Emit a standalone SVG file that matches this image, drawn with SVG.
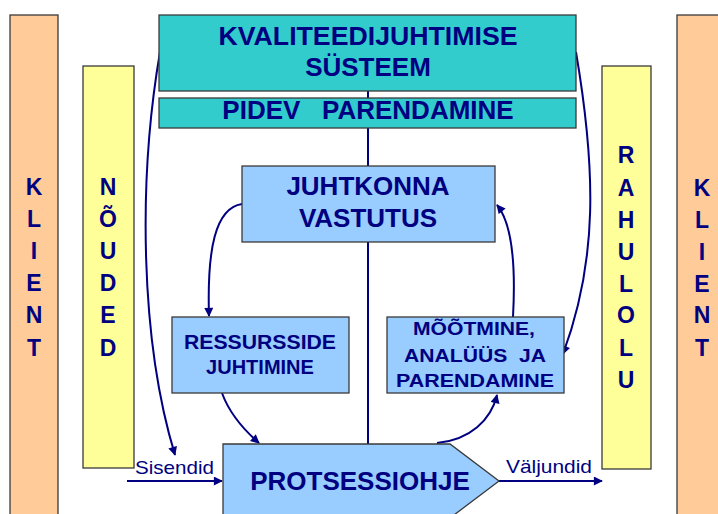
<svg xmlns="http://www.w3.org/2000/svg" width="718" height="514" viewBox="0 0 718 514">
<style>
.bar{stroke:#3a3a3a;stroke-width:1.3}
.box{stroke:#3a3a3a;stroke-width:1.3}
.t{font-family:"Liberation Sans",Arial,sans-serif;font-weight:bold;fill:#000080;text-anchor:middle}
.r{font-family:"Liberation Sans",Arial,sans-serif;fill:#000080}
.c{fill:none;stroke:#000080;stroke-width:2}
</style>
<defs>
<marker id="ah" viewBox="0 0 10 10" refX="9" refY="5" markerWidth="10" markerHeight="9" markerUnits="userSpaceOnUse" orient="auto">
<path d="M0,0 L10,5 L0,10 Z" fill="#000080"/>
</marker>
</defs>
<rect width="718" height="514" fill="#ffffff"/>
<g id="klient-left">
<rect class="bar" x="10" y="15" width="48" height="510" fill="#FFCC99"/>
<text class="t" font-size="23" x="34"><tspan x="34" y="195">K</tspan><tspan x="34" y="227">L</tspan><tspan x="34" y="259">I</tspan><tspan x="34" y="291">E</tspan><tspan x="34" y="323">N</tspan><tspan x="34" y="356">T</tspan></text>
</g>
<g id="noudmised">
<rect class="bar" x="83" y="66" width="51" height="402" fill="#FFFF99"/>
<text class="t" font-size="23"><tspan x="108" y="195">N</tspan><tspan x="108" y="227">Õ</tspan><tspan x="108" y="259">U</tspan><tspan x="108" y="291">D</tspan><tspan x="108" y="323">E</tspan><tspan x="108" y="356">D</tspan></text>
</g>
<g id="rahulolu">
<rect class="bar" x="602" y="66" width="49" height="403" fill="#FFFF99"/>
<text class="t" font-size="23"><tspan x="626" y="163">R</tspan><tspan x="626" y="196">A</tspan><tspan x="626" y="228">H</tspan><tspan x="626" y="260">U</tspan><tspan x="626" y="292">L</tspan><tspan x="626" y="323">O</tspan><tspan x="626" y="356">L</tspan><tspan x="626" y="388">U</tspan></text>
</g>
<g id="klient-right">
<rect class="bar" x="677" y="15" width="60" height="510" fill="#FFCC99"/>
<text class="t" font-size="23"><tspan x="702" y="196">K</tspan><tspan x="702" y="228">L</tspan><tspan x="702" y="260">I</tspan><tspan x="702" y="292">E</tspan><tspan x="702" y="323">N</tspan><tspan x="702" y="356">T</tspan></text>
</g>
<g id="connectors">
<line class="c" x1="368" y1="91" x2="368" y2="98"/>
<line class="c" x1="368" y1="128" x2="368" y2="166"/>
<line class="c" x1="368" y1="242" x2="368" y2="444"/>
<path class="c" d="M160,52 C138,180 140,340 175,455" marker-end="url(#ah)"/>
<path class="c" d="M576,52 C596,170 598,260 563,354" marker-end="url(#ah)"/>
<path class="c" d="M242,204 C215,208 207,250 209,316" marker-end="url(#ah)"/>
<path class="c" d="M513,317 C516,262 511,222 497,205" marker-end="url(#ah)"/>
<path class="c" d="M222,393 C230,415 244,430 259,443" marker-end="url(#ah)"/>
<path class="c" d="M437,443 C470,440 491,420 497,395" marker-end="url(#ah)"/>
<line class="c" x1="127" y1="481" x2="222" y2="481" marker-end="url(#ah)"/>
<line class="c" x1="499" y1="481" x2="602" y2="481" marker-end="url(#ah)"/>
</g>
<g id="kvaliteedijuhtimise-systeem">
<rect class="box" x="159" y="15" width="417" height="76" fill="#33CCCC"/>
<text class="t" font-size="26" x="368" y="45" textLength="299" lengthAdjust="spacingAndGlyphs">KVALITEEDIJUHTIMISE</text>
<text class="t" font-size="26" x="368" y="76">SÜSTEEM</text>
</g>
<g id="pidev-parendamine">
<rect class="box" x="159" y="98" width="417" height="30" fill="#33CCCC"/>
<text class="t" font-size="26" x="368" y="119" xml:space="preserve" style="white-space:pre">PIDEV   PARENDAMINE</text>
</g>
<g id="juhtkonna-vastutus">
<rect class="box" x="242" y="166" width="253" height="76" fill="#99CCFF"/>
<text class="t" font-size="26" x="368" y="195">JUHTKONNA</text>
<text class="t" font-size="26" x="368" y="227">VASTUTUS</text>
</g>
<g id="ressursside-juhtimine">
<rect class="box" x="172" y="317" width="177" height="76" fill="#99CCFF"/>
<text class="t" font-size="20" x="260" y="349" textLength="152" lengthAdjust="spacingAndGlyphs">RESSURSSIDE</text>
<text class="t" font-size="20" x="260" y="374">JUHTIMINE</text>
</g>
<g id="mootmine">
<rect class="box" x="387" y="317" width="177" height="76" fill="#99CCFF"/>
<text class="t" font-size="19" x="474" y="335" textLength="122" lengthAdjust="spacingAndGlyphs">MÕÕTMINE,</text>
<text class="t" font-size="19" x="475" y="362" textLength="142" lengthAdjust="spacingAndGlyphs" xml:space="preserve" style="white-space:pre">ANALÜÜS  JA</text>
<text class="t" font-size="19" x="475" y="387" textLength="158" lengthAdjust="spacingAndGlyphs">PARENDAMINE</text>
</g>
<g id="protsessiohje">
<path class="box" d="M223,444 L450,444 L499,481 L450,518 L223,518 Z" fill="#99CCFF"/>
<text class="t" font-size="26" x="360" y="490">PROTSESSIOHJE</text>
</g>
<g id="labels">
<text class="r" font-size="19" x="135" y="474" textLength="79" lengthAdjust="spacingAndGlyphs">Sisendid</text>
<text class="r" font-size="19" x="506" y="473" textLength="86" lengthAdjust="spacingAndGlyphs">Väljundid</text>
</g>
</svg>
